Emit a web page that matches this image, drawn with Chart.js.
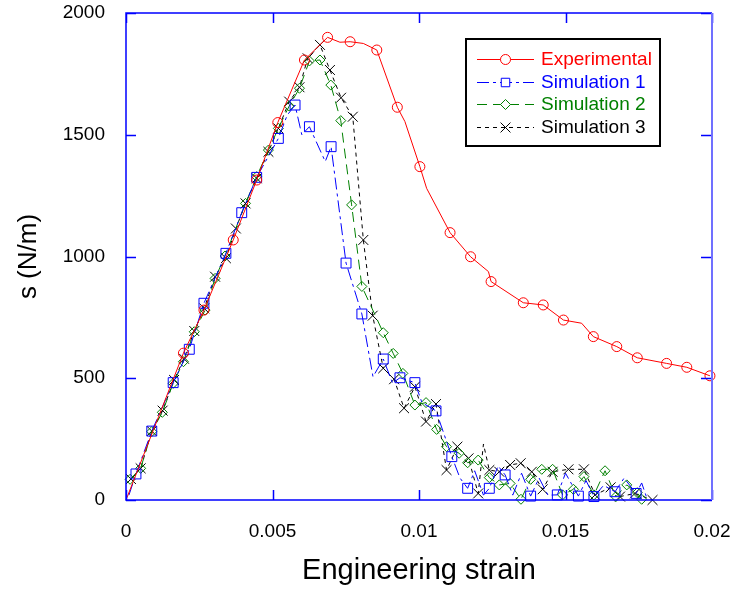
<!DOCTYPE html>
<html>
<head>
<meta charset="utf-8">
<script src="https://cdn.jsdelivr.net/npm/chart.js@4"></script>
<style>
	html, body { margin: 0; padding: 0; background: #fff; }
	canvas { display: block; }
</style>
</head>
<body>
<canvas id="chart" width="733" height="589"></canvas>
<script>
// tick values
const xTicks = [0, 0.005, 0.01, 0.015, 0.02];
const yTicks = [0, 500, 1000, 1500, 2000];

const seriesNames = ["Experimental", "Simulation 1", "Simulation 2", "Simulation 3"];

// experimental curve (1 = circle marker drawn)
const expStrain = [0, 0.00196, 0.00266, 0.00366, 0.00446, 0.00518, 0.00609, 0.00688, 0.0073, 0.00765, 0.0081, 0.00856, 0.00926, 0.00952, 0.01003, 0.01026, 0.01106, 0.01176, 0.01237, 0.01246, 0.01356, 0.01424, 0.01493, 0.01555, 0.01595, 0.01675, 0.01745, 0.01845, 0.01914, 0.01993];
const expStress = [0, 603, 780, 1068, 1314, 1550, 1807, 1900, 1880, 1882, 1875, 1848, 1613, 1554, 1369, 1280, 1098, 999, 938, 897, 810, 801, 739, 726, 671, 630, 584, 561, 545, 510];
const expMark = [0, 1, 1, 1, 1, 1, 1, 1, 0, 1, 0, 1, 1, 0, 1, 0, 1, 1, 0, 1, 1, 1, 1, 0, 1, 1, 1, 1, 1, 1];

// simulation 1
const sim1Strain = [0.0001, 0.00034, 0.00088, 0.00161, 0.00216, 0.00266, 0.00341, 0.00395, 0.00446, 0.0052, 0.0055, 0.00577, 0.006, 0.00626, 0.0068, 0.007, 0.00751, 0.00805, 0.00843, 0.00878, 0.0091, 0.00935, 0.00986, 0.0101, 0.01058, 0.01112, 0.0114, 0.01166, 0.0119, 0.0122, 0.0124, 0.0127, 0.01294, 0.0132, 0.0135, 0.01381, 0.0141, 0.0144, 0.01472, 0.015, 0.01544, 0.0157, 0.01597, 0.0163, 0.01669, 0.017, 0.01741, 0.0176, 0.0178];
const sim1Stress = [20, 107, 283, 482, 619, 808, 1013, 1180, 1325, 1485, 1580, 1622, 1500, 1533, 1390, 1451, 973, 764, 506, 579, 480, 502, 482, 400, 366, 178, 90, 48, 120, 20, 48, 140, 103, 20, 110, 16, 90, 20, 21, 110, 16, 80, 14, 60, 34, 90, 27, 70, 0];
const sim1Mark = [0, 1, 1, 1, 1, 1, 1, 1, 1, 1, 0, 1, 0, 1, 0, 1, 1, 1, 0, 1, 0, 1, 1, 0, 1, 1, 0, 1, 0, 0, 1, 0, 1, 0, 0, 1, 0, 0, 1, 0, 1, 0, 1, 0, 1, 0, 1, 0, 0];

// simulation 2
const sim2Strain = [0.00014, 0.0005, 0.00088, 0.00124, 0.00161, 0.00196, 0.00233, 0.0027, 0.00304, 0.00338, 0.00408, 0.00446, 0.00486, 0.0052, 0.00557, 0.00592, 0.00626, 0.00662, 0.00699, 0.00733, 0.0077, 0.00805, 0.00878, 0.00912, 0.00945, 0.00986, 0.01024, 0.0106, 0.01094, 0.01137, 0.01166, 0.01202, 0.0124, 0.01274, 0.01311, 0.01348, 0.01381, 0.01419, 0.01456, 0.0149, 0.01527, 0.01563, 0.01597, 0.01635, 0.01672, 0.01709, 0.01745, 0.0176];
const sim2Stress = [85, 130, 281, 360, 479, 568, 691, 780, 910, 1002, 1218, 1328, 1437, 1526, 1618, 1691, 1803, 1807, 1704, 1558, 1212, 877, 687, 602, 520, 390, 400, 290, 219, 192, 153, 164, 92, 62, 68, 3, 85, 126, 126, 21, 44, 96, 21, 120, 14, 62, 30, 3];

// simulation 3
const sim3Strain = [0.00017, 0.0005, 0.00088, 0.00125, 0.00164, 0.00198, 0.00233, 0.00267, 0.00304, 0.00341, 0.00375, 0.00408, 0.00446, 0.00486, 0.0052, 0.00557, 0.00592, 0.0062, 0.00662, 0.00696, 0.00734, 0.00774, 0.0081, 0.00842, 0.00878, 0.00915, 0.00949, 0.00986, 0.01024, 0.01058, 0.01094, 0.01131, 0.01169, 0.01202, 0.0122, 0.0124, 0.01274, 0.01311, 0.01347, 0.01385, 0.01422, 0.01456, 0.0151, 0.01563, 0.01601, 0.01654, 0.01686, 0.01737, 0.01797];
const sim3Stress = [86, 130, 283, 367, 493, 580, 694, 787, 917, 993, 1115, 1218, 1321, 1430, 1526, 1636, 1695, 1814, 1869, 1766, 1652, 1574, 1068, 757, 541, 496, 377, 465, 322, 394, 123, 219, 171, 27, 230, 123, 116, 144, 151, 116, 44, 116, 126, 126, 21, 52, 14, 27, 0];
const sim3Mark = [1, 1, 1, 1, 1, 1, 1, 1, 1, 1, 1, 1, 1, 1, 1, 1, 1, 1, 1, 1, 1, 1, 1, 1, 1, 1, 1, 1, 1, 1, 1, 1, 1, 1, 0, 1, 1, 1, 1, 1, 1, 1, 1, 1, 1, 1, 1, 1, 1];

const colors = ["#ff0000", "#0000ff", "#008000", "#000000"];
const fontFam = "'Liberation Sans', Arial, sans-serif";

function pts(xs, ys) {
	return xs.map(function (x, i) { return { x: x, y: ys[i] }; });
}

function makeSet(i, xs, ys, marks, style, radius, dash) {
	return {
		label: seriesNames[i],
		data: pts(xs, ys),
		showLine: true,
		borderColor: colors[i],
		borderWidth: 1,
		borderDash: dash,
		backgroundColor: "rgba(0,0,0,0)",
		pointStyle: style,
		pointRadius: function (ctx) { return marks == null || marks[ctx.dataIndex] ? radius : 0; },
		pointBorderColor: colors[i],
		pointBackgroundColor: "rgba(0,0,0,0)",
		pointBorderWidth: 1,
		tension: 0,
		clip: false
	};
}

const framePlugin = {
	id: "frame",
	afterDatasetsDraw: function (chart) {
		const ctx = chart.ctx, a = chart.chartArea;
		const xs = chart.scales.x, ys = chart.scales.y;
		ctx.save();
		ctx.strokeStyle = "#0000ff";
		ctx.lineWidth = 1.5;
		ctx.beginPath();
		ctx.moveTo(a.right, a.top);
		ctx.lineTo(a.left, a.top);
		ctx.lineTo(a.left, a.bottom);
		ctx.lineTo(a.right, a.bottom);
		for (const v of xTicks) {
			const px = Math.round(xs.getPixelForValue(v)) + 0.5;
			ctx.moveTo(px, a.bottom); ctx.lineTo(px, a.bottom - 10);
			ctx.moveTo(px, a.top); ctx.lineTo(px, a.top + 10);
		}
		for (const v of yTicks) {
			const py = Math.round(ys.getPixelForValue(v)) + 0.5;
			ctx.moveTo(a.left, py); ctx.lineTo(a.left + 10, py);
			ctx.moveTo(a.right, py); ctx.lineTo(a.right - 11, py);
		}
		ctx.stroke();
		ctx.strokeStyle = "#7070ff";
		ctx.lineWidth = 2;
		ctx.beginPath();
		ctx.moveTo(a.right, a.top);
		ctx.lineTo(a.right, a.bottom);
		ctx.stroke();
		ctx.restore();
	},
	afterDraw: function (chart) {
		const ctx = chart.ctx;
		ctx.save();
		ctx.fillStyle = "#fff";
		ctx.fillRect(466, 39, 194, 107);
		ctx.strokeStyle = "#000";
		ctx.lineWidth = 2;
		ctx.strokeRect(466, 39, 194, 107);
		const rows = [59, 82, 104, 127];
		chart.data.datasets.forEach(function (ds, i) {
			const y = rows[i];
			ctx.strokeStyle = ds.borderColor;
			ctx.lineWidth = 1;
			ctx.setLineDash(ds.borderDash);
			ctx.beginPath();
			ctx.moveTo(477, y + 0.5);
			ctx.lineTo(534, y + 0.5);
			ctx.stroke();
			ctx.setLineDash([]);
			ctx.fillStyle = "#fff";
			ctx.strokeStyle = ds.borderColor;
			const r = [5, 6, 5, 7][i];
			Chart.helpers.drawPoint(ctx, { pointStyle: ds.pointStyle, radius: r, rotation: 0, borderWidth: 1 }, 505.5, y + 0.5);
			ctx.fillStyle = ds.borderColor;
			ctx.font = "19px " + fontFam;
			ctx.textBaseline = "middle";
			ctx.textAlign = "left";
			ctx.fillText(ds.label, 541, y + 1);
		});
		ctx.restore();
	}
};

function noPad(s) {
	s.paddingLeft = 0;
	s.paddingRight = 0;
	s.paddingTop = 0;
	s.paddingBottom = 0;
}

const chart = new Chart(document.getElementById("chart").getContext("2d"), {
	type: "scatter",
	data: {
		datasets: [
			makeSet(0, expStrain, expStress, expMark, "circle", 5, []),
			makeSet(1, sim1Strain, sim1Stress, sim1Mark, "rect", 7, [12, 4, 3, 4]),
			makeSet(2, sim2Strain, sim2Stress, null, "rectRot", 5, [10, 6]),
			makeSet(3, sim3Strain, sim3Stress, sim3Mark, "crossRot", 7, [4, 4])
		]
	},
	options: {
		responsive: false,
		animation: false,
		devicePixelRatio: 1,
		layout: { padding: { top: 13, right: 21, left: 0, bottom: 0 } },
		plugins: {
			legend: { display: false },
			tooltip: { enabled: false }
		},
		scales: {
			x: {
				type: "linear",
				min: 0,
				max: 0.02,
				afterBuildTicks: function (s) { s.ticks = xTicks.map(function (v) { return { value: v }; }); },
				afterFit: function (s) { s.height = 89; noPad(s); },
				grid: { display: false },
				border: { display: false },
				ticks: {
					padding: 12,
					color: "#000",
					font: { size: 19, family: fontFam },
					maxRotation: 0,
					callback: function (v) { return v == 0 ? "0" : String(+v.toFixed(3)); }
				},
				title: {
					display: true,
					text: "Engineering strain",
					color: "#000",
					font: { size: 29, family: fontFam },
					padding: { top: 0, bottom: 1 }
				}
			},
			y: {
				type: "linear",
				min: 0,
				max: 2000,
				afterBuildTicks: function (s) { s.ticks = yTicks.map(function (v) { return { value: v }; }); },
				afterFit: function (s) { s.width = 126; noPad(s); },
				grid: { display: false },
				border: { display: false },
				ticks: {
					padding: 13,
					color: "#000",
					font: { size: 19, family: fontFam },
					callback: function (v) { return String(v); }
				},
				title: {
					display: true,
					text: "s (N/m)",
					color: "#000",
					font: { size: 26, family: fontFam },
					padding: { top: 13, bottom: 0 }
				}
			}
		}
	},
	plugins: [framePlugin]
});
</script>
</body>
</html>
